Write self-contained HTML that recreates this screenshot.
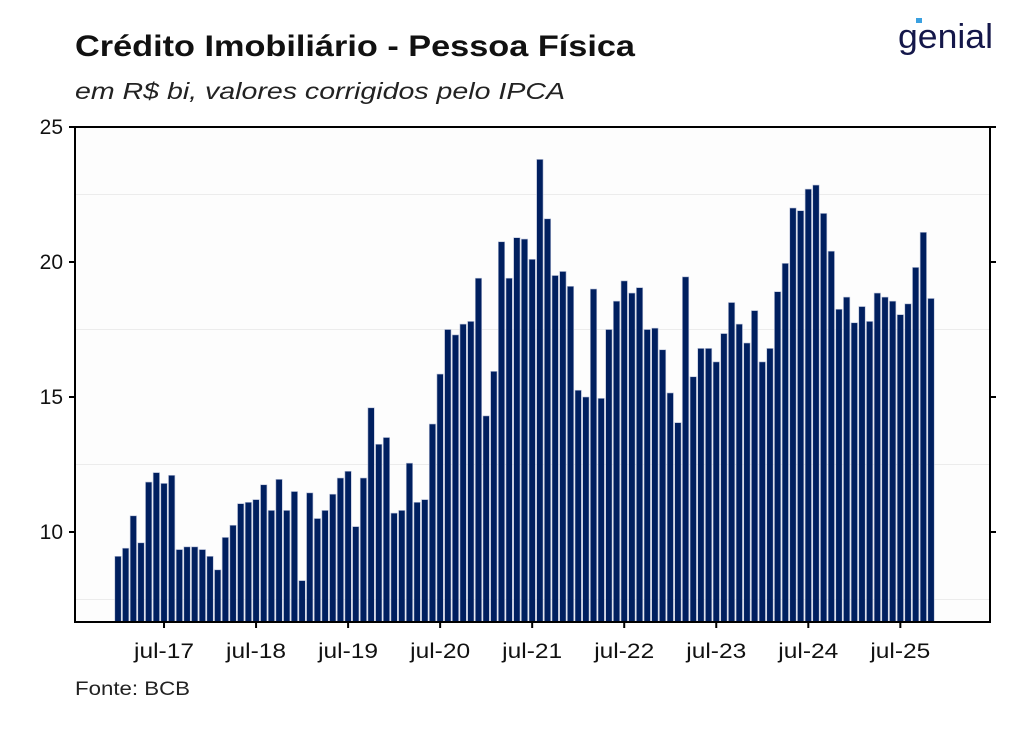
<!DOCTYPE html>
<html><head><meta charset="utf-8"><style>
body{margin:0;background:#fff;width:1024px;height:731px;overflow:hidden;font-family:"Liberation Sans",sans-serif;}
</style></head><body>
<svg width="1024" height="731" xmlns="http://www.w3.org/2000/svg">
<text x="75" y="56" font-size="30" font-weight="bold" fill="#111" textLength="560" lengthAdjust="spacingAndGlyphs">Crédito Imobiliário - Pessoa Física</text>
<text x="75" y="99" font-size="23" font-style="italic" fill="#222" textLength="490" lengthAdjust="spacingAndGlyphs">em R$ bi, valores corrigidos pelo IPCA</text>
<g><text x="898" y="48" font-size="34" fill="#14174a" textLength="95" lengthAdjust="spacingAndGlyphs">genial</text><rect x="916" y="18" width="6" height="5" fill="#3aa0e0"/></g>
<text x="75" y="695" font-size="19" fill="#222" textLength="115" lengthAdjust="spacingAndGlyphs">Fonte: BCB</text>
<g id="grid"></g><g id="bars"></g><g id="axes"></g>
</svg>
<script>
const startYear = 2017, startMonth = 0;
const values = [9.1,9.4,10.6,9.6,11.85,12.2,11.8,12.1,9.35,9.45,9.45,9.35,9.1,8.6,9.8,10.25,11.05,11.1,11.2,11.75,10.8,11.95,10.8,11.5,8.2,11.45,10.5,10.8,11.4,12.0,12.25,10.2,12.0,14.6,13.25,13.5,10.7,10.8,12.55,11.1,11.2,14.0,15.85,17.5,17.3,17.7,17.8,19.4,14.3,15.95,20.75,19.4,20.9,20.85,20.1,23.8,21.6,19.5,19.65,19.1,15.25,15.0,19.0,14.95,17.5,18.55,19.3,18.85,19.05,17.5,17.55,16.75,15.15,14.05,19.45,15.75,16.8,16.8,16.3,17.35,18.5,17.7,17.0,18.2,16.3,16.8,18.9,19.95,22.0,21.9,22.7,22.85,21.8,20.4,18.25,18.7,17.75,18.35,17.8,18.85,18.7,18.55,18.05,18.45,19.8,21.1,18.65];
const yTicks = [10,15,20,25];
const gridVals = [7.5,12.5,17.5,22.5];
const xTickLabels = ["jul-17","jul-18","jul-19","jul-20","jul-21","jul-22","jul-23","jul-24","jul-25"];
const xTickIndex = [6,18,30,42,54,66,78,90,102];

const L=75,R=990,T=127,B=622,yMin=6.667,yMax=25;
const y=v=>B-(v-yMin)/(yMax-yMin)*(B-T);
const x0=118,step=7.67;
const x=i=>x0+i*step;
const NS="http://www.w3.org/2000/svg";
function mk(tag,attrs,parent){const e=document.createElementNS(NS,tag);for(const k in attrs)e.setAttribute(k,attrs[k]);parent.appendChild(e);return e;}
const grid=document.getElementById('grid'),bars=document.getElementById('bars'),axes=document.getElementById('axes');
mk('rect',{x:L,y:T,width:R-L,height:B-T,fill:'#fdfdfd'},grid);
gridVals.forEach(v=>{const l=mk('line',{x1:L,x2:R,y1:y(v),y2:y(v),stroke:'#ececec','stroke-width':1},grid);

});
values.forEach((v,i)=>{const r=mk('rect',{x:x(i)-3.2,y:y(v),width:6.4,height:B-y(v),fill:'#001f5f',stroke:'#b8c0d8','stroke-width':0.6},bars);

});
const fr=mk('rect',{x:L,y:T,width:R-L,height:B-T,fill:'none',stroke:'#000','stroke-width':2},axes);


yTicks.forEach(v=>{mk('line',{x1:L-6,x2:L,y1:y(v),y2:y(v),stroke:'#000','stroke-width':2},axes);
mk('line',{x1:R,x2:R+6,y1:y(v),y2:y(v),stroke:'#000','stroke-width':2},axes);
const t=mk('text',{x:L-12,y:y(v)+7,'text-anchor':'end','font-size':21,fill:'#111'},axes);t.textContent=v;

});
xTickIndex.forEach((idx,k)=>{const xx=x(idx);
mk('line',{x1:xx,x2:xx,y1:B,y2:B+6,stroke:'#000','stroke-width':2},axes);
const t=mk('text',{x:xx,y:B+36,'text-anchor':'middle','font-size':21,fill:'#111',textLength:60,lengthAdjust:'spacingAndGlyphs'},axes);t.textContent=xTickLabels[k];

});
</script>
</body></html>
